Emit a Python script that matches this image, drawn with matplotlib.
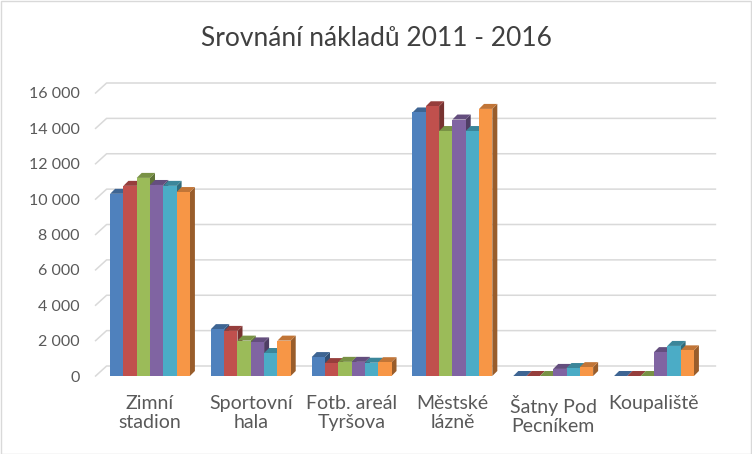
import numpy as np
import matplotlib
matplotlib.use('Agg')
from matplotlib import pyplot as plt
from matplotlib.patches import Polygon, Rectangle
from matplotlib.ticker import FuncFormatter

# data
categories = ['Zimní\nstadion', 'Sportovní\nhala', 'Fotb. areál\nTyršova',
              'Městské\nlázně', 'Šatny Pod\nPecníkem', 'Koupaliště']
years = ['2011', '2012', '2013', '2014', '2015', '2016']
y2011 = [10300, 2650, 1070, 14900, 0, 0]
y2012 = [10750, 2550, 730, 15250, 0, 0]
y2013 = [11200, 2000, 800, 13850, 0, 0]
y2014 = [10800, 1900, 800, 14500, 400, 1350]
y2015 = [10750, 1300, 750, 13850, 450, 1700]
y2016 = [10400, 2000, 780, 15100, 500, 1450]
series = [y2011, y2012, y2013, y2014, y2015, y2016]
colors = ['#4F81BD', '#C0504D', '#9BBB59', '#8064A2', '#4BACC6', '#F79646']

plt.rcParams['font.family'] = ['Lato', 'DejaVu Sans']

W, H = 752, 454
fig = plt.figure(figsize=(W / 100, H / 100), dpi=100)
ax_l, ax_r, ax_t, ax_b = 99.6, 704.4, 93, 376
ax = fig.add_axes([ax_l / W, (H - ax_b) / H, (ax_r - ax_l) / W, (ax_b - ax_t) / H])
ax.set_xlim(-0.5, 5.5)
ax.set_ylim(0, 16000)

# pixel -> data units
ux = 6 / (ax_r - ax_l)
uy = 16000 / (ax_b - ax_t)


def shade(c, f):
    rgb = np.array(matplotlib.colors.to_rgb(c))
    return tuple(rgb * f)


# walls / gridlines
wdx, wdy = 11 * ux, 10 * uy
back_right = 5.5 + 11 * ux
grid_c = '#D9D9D9'
for v in range(0, 16001, 2000):
    ax.plot([-0.5 - 4 * ux, -0.5 - 4 * ux + wdx, back_right],
            [v, v + wdy, v + wdy], color=grid_c, lw=1.1, zorder=0, clip_on=False)

# 3D-looking bars
n = len(series)
bw = 0.132
ddx, ddy = 5 * ux, 5 * uy
z = 2
for ci in range(len(categories)):
    for si in range(n):
        h = series[si][ci]
        x0 = ci - n * bw / 2 + si * bw
        x1 = x0 + bw
        c = colors[si]
        front = Rectangle((x0, 0), bw, h, facecolor=c, edgecolor='none', zorder=z)
        top = Polygon([(x0, h), (x1, h), (x1 + ddx, h + ddy), (x0 + ddx, h + ddy)],
                      closed=True, facecolor=shade(c, 0.78), edgecolor='none', zorder=z)
        side = Polygon([(x1, 0), (x1 + ddx, ddy), (x1 + ddx, h + ddy), (x1, h)],
                       closed=True, facecolor=shade(c, 0.62), edgecolor='none', zorder=z)
        for p in (side, top, front):
            p.set_clip_on(False)
            ax.add_patch(p)
        z += 1

for s in ax.spines.values():
    s.set_visible(False)

ax.set_yticks(range(0, 16001, 2000))
ax.yaxis.set_major_formatter(FuncFormatter(lambda v, p: f'{int(v):,}'.replace(',', ' ')))
ax.set_xticks(range(len(categories)))
ax.set_xticklabels(categories, linespacing=1.12)
ax.tick_params(axis='y', length=0, pad=14.5, labelsize=11.5, labelcolor='#595959')
ax.tick_params(axis='x', length=0, pad=14, labelsize=14, labelcolor='#595959')

fig.text(0.5, 1 - 38 / H, 'Srovnání nákladů 2011 - 2016', ha='center', va='center',
         fontsize=19, color='#404040')

fig.patches.append(Rectangle((0.5 / W, 0.5 / H), 1 - 1.5 / W, 1 - 1.5 / H,
                             transform=fig.transFigure, fill=False,
                             edgecolor='#D9D9D9', lw=1))

fig.savefig('out.png', dpi=100)
